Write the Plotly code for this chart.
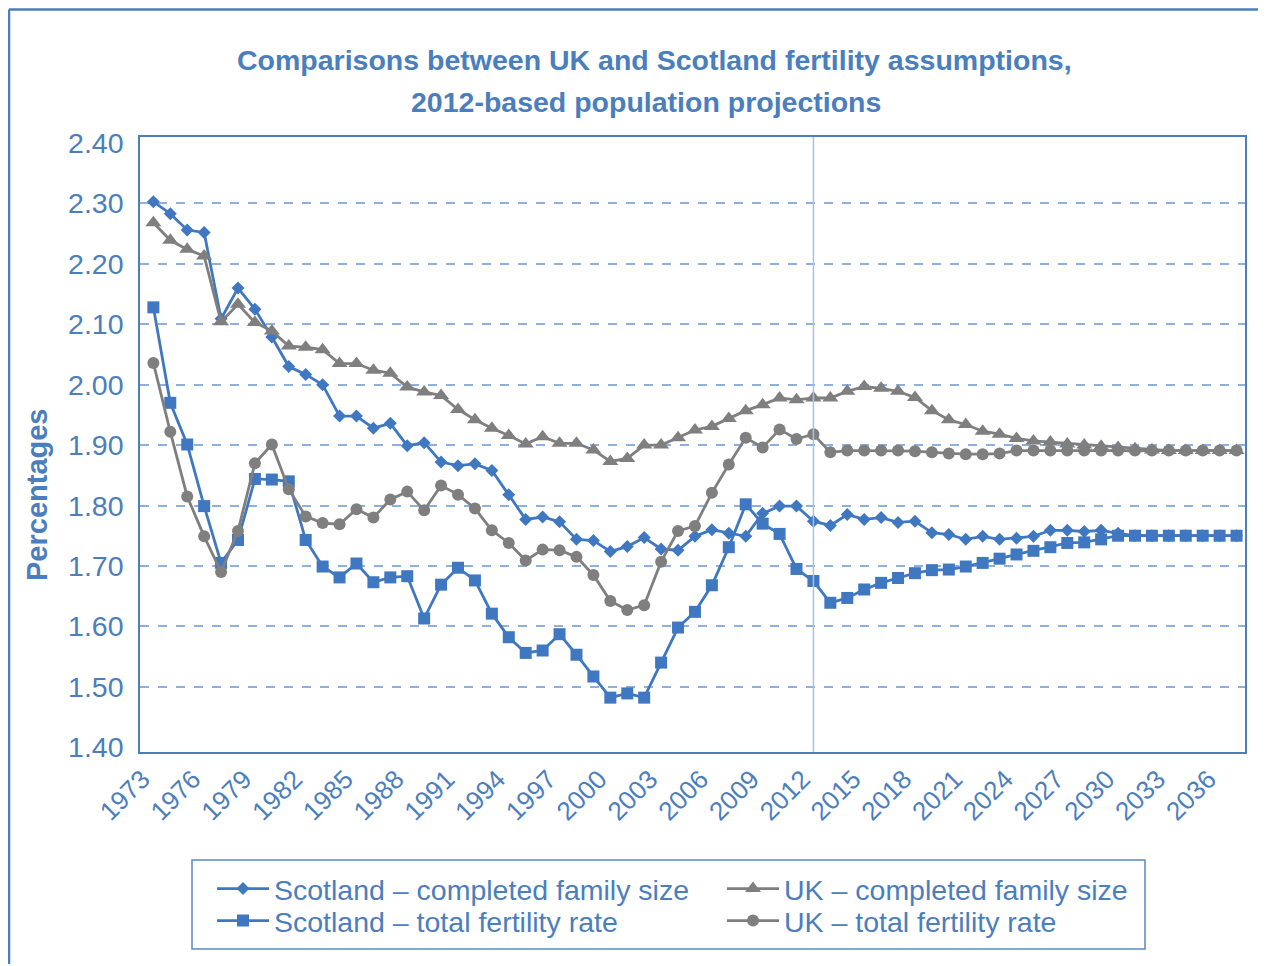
import plotly.graph_objects as go

# Years 1973-2037, one value per year
YEARS = list(range(1973, 2038))
TICK_YEARS = [1973, 1976, 1979, 1982, 1985, 1988, 1991, 1994, 1997, 2000, 2003,
              2006, 2009, 2012, 2015, 2018, 2021, 2024, 2027, 2030, 2033, 2036]
Y_TICKS = [1.40, 1.50, 1.60, 1.70, 1.80, 1.90, 2.00, 2.10, 2.20, 2.30, 2.40]
GRID_VALUES = [1.50, 1.60, 1.70, 1.80, 1.90, 2.00, 2.10, 2.20, 2.30]
BASE_YEAR = 2012

scotland_cfs = [
    2.303, 2.283, 2.256, 2.252, 2.109, 2.160, 2.125, 2.079, 2.030, 2.017,  # 1973-1982
    2.000, 1.948, 1.948, 1.928, 1.936, 1.899, 1.904, 1.872, 1.866, 1.869,  # 1983-1992
    1.858, 1.818, 1.777, 1.781, 1.773, 1.744, 1.742, 1.724, 1.732, 1.747,  # 1993-2002
    1.728, 1.726, 1.749, 1.760, 1.754, 1.749, 1.787, 1.799, 1.799, 1.774,  # 2003-2012
    1.767, 1.785, 1.777, 1.780, 1.772, 1.774, 1.755, 1.752, 1.744, 1.749,  # 2013-2022
    1.744, 1.746, 1.749, 1.759, 1.759, 1.757, 1.759, 1.754, 1.750, 1.750,  # 2023-2032
    1.750, 1.750, 1.750, 1.750, 1.750,                                     # 2033-2037
]
scotland_tfr = [
    2.128, 1.970, 1.901, 1.799, 1.705, 1.743, 1.844, 1.843, 1.840, 1.743,
    1.699, 1.681, 1.704, 1.673, 1.681, 1.683, 1.613, 1.669, 1.697, 1.676,
    1.621, 1.582, 1.556, 1.560, 1.587, 1.553, 1.517, 1.482, 1.489, 1.482,
    1.540, 1.598, 1.624, 1.668, 1.731, 1.802, 1.770, 1.753, 1.695, 1.675,
    1.639, 1.647, 1.661, 1.672, 1.680, 1.688, 1.693, 1.694, 1.699, 1.705,
    1.712, 1.719, 1.725, 1.731, 1.738, 1.739, 1.744, 1.750, 1.750, 1.750,
    1.750, 1.750, 1.750, 1.750, 1.750,
]
uk_cfs = [
    2.268, 2.239, 2.224, 2.213, 2.104, 2.133, 2.103, 2.089, 2.064, 2.062,
    2.058, 2.035, 2.035, 2.024, 2.019, 1.996, 1.988, 1.982, 1.959, 1.942,
    1.928, 1.916, 1.902, 1.914, 1.903, 1.903, 1.892, 1.873, 1.878, 1.900,
    1.900, 1.912, 1.925, 1.931, 1.944, 1.957, 1.967, 1.978, 1.975, 1.978,
    1.978, 1.989, 1.997, 1.994, 1.989, 1.979, 1.957, 1.942, 1.934, 1.923,
    1.918, 1.911, 1.907, 1.905, 1.902, 1.900, 1.898, 1.896, 1.894, 1.892,
    1.891, 1.891, 1.891, 1.891, 1.891,
]
uk_tfr = [
    2.036, 1.922, 1.815, 1.749, 1.690, 1.758, 1.870, 1.901, 1.827, 1.782,
    1.771, 1.769, 1.794, 1.780, 1.810, 1.823, 1.792, 1.833, 1.818, 1.795,
    1.759, 1.738, 1.709, 1.727, 1.726, 1.715, 1.685, 1.642, 1.627, 1.635,
    1.707, 1.758, 1.766, 1.821, 1.868, 1.912, 1.896, 1.926, 1.910, 1.918,
    1.888, 1.891, 1.891, 1.891, 1.891, 1.890, 1.888, 1.886, 1.885, 1.885,
    1.886, 1.891, 1.891, 1.891, 1.891, 1.891, 1.891, 1.891, 1.891, 1.891,
    1.891, 1.891, 1.891, 1.891, 1.891,
]

BLUE = "#3f78c1"
GREY = "#7f7f80"
TEXT = "#4a7ebd"
FONT = "Liberation Sans, Arial, sans-serif"

# the page body adds an 8px margin, so the figure is a bit smaller than the window
PAGE_PAD = 8
W, H = 1266 - PAGE_PAD, 966 - PAGE_PAD
PLOT_LEFT, PLOT_RIGHT, PLOT_TOP, PLOT_BOTTOM = 140, 1245, 137, 752  # page pixels
L = PLOT_LEFT - PAGE_PAD
R = W - (PLOT_RIGHT - PAGE_PAD)
T = PLOT_TOP - PAGE_PAD
B = H - (PLOT_BOTTOM - PAGE_PAD)
PW, PH = W - L - R, H - T - B


def px(x):
    """Page x pixel -> paper fraction."""
    return (x - PAGE_PAD - L) / PW


def py(y):
    """Page y pixel -> paper fraction."""
    return (H - B - (y - PAGE_PAD)) / PH


# name, values, colour, marker, size, legend id, legend anchor (page px)
series = [
    ("Scotland \u2013 completed family size", scotland_cfs, BLUE, "diamond", 10, "legend", (212, 889)),
    ("UK \u2013 completed family size", uk_cfs, GREY, "triangle-up", 14, "legend2", (722, 889)),
    ("Scotland \u2013 total fertility rate", scotland_tfr, BLUE, "square", 12, "legend3", (212, 921)),
    ("UK \u2013 total fertility rate", uk_tfr, GREY, "circle", 12, "legend4", (722, 921)),
]

fig = go.Figure()
legends = {}
for name, values, color, symbol, size, legend_id, (lx, ly) in series:
    fig.add_trace(
        go.Scatter(
            x=YEARS,
            y=values,
            name=name,
            mode="lines+markers",
            line=dict(color=color, width=2.8),
            marker=dict(symbol=symbol, size=size, color=color),
            legend=legend_id,
        )
    )
    legends[legend_id] = dict(
        x=px(lx),
        y=py(ly),
        xanchor="left",
        yanchor="middle",
        itemwidth=52,
        font=dict(size=28.5, color=TEXT),
        bgcolor="rgba(0,0,0,0)",
        borderwidth=0,
    )

fig.update_layout(
    width=W,
    height=H,
    margin=dict(l=L, r=R, t=T, b=B),
    paper_bgcolor="white",
    plot_bgcolor="white",
    font=dict(family=FONT, color=TEXT),
    showlegend=True,
    xaxis=dict(
        range=[1972.21, 2037.5],
        tickvals=TICK_YEARS,
        tickangle=-45,
        tickfont=dict(size=26, color=TEXT),
        showgrid=False,
        zeroline=False,
        showline=True,
        mirror=True,
        linecolor="#4a7ebd",
        linewidth=1.5,
        ticks="",
        ticklabelstandoff=0,
        ticklabelshift=-11,
    ),
    yaxis=dict(
        range=[1.392, 2.41],
        tickvals=Y_TICKS,
        tickformat=".2f",
        tickfont=dict(size=28.5, color=TEXT),
        showgrid=False,
        zeroline=False,
        showline=True,
        mirror=True,
        linecolor="#4a7ebd",
        linewidth=1.5,
        ticks="",
        ticklabelstandoff=9,
        minor=dict(
            tickvals=GRID_VALUES,
            showgrid=True,
            gridcolor="#8fb0dd",
            griddash="dash",
            gridwidth=1.5,
        ),
    ),
    annotations=[
        dict(
            text="<b>Comparisons between UK and Scotland fertility assumptions,</b>",
            x=px(654), y=py(60), xref="paper", yref="paper",
            xanchor="center", yanchor="middle", showarrow=False,
            font=dict(size=28.5, color=TEXT),
        ),
        dict(
            text="<b>2012-based population projections</b>",
            x=px(646), y=py(102), xref="paper", yref="paper",
            xanchor="center", yanchor="middle", showarrow=False,
            font=dict(size=28.5, color=TEXT),
        ),
        dict(
            text="<b>Percentages</b>",
            x=px(37), y=py(495), xref="paper", yref="paper",
            xanchor="center", yanchor="middle", showarrow=False,
            textangle=-90,
            font=dict(size=29, color=TEXT),
        ),
    ],
    shapes=[
        # outer frame: only its top and left edges fall on the page
        dict(type="line", xref="paper", yref="paper",
             x0=px(9), x1=px(1280), y0=py(9.5), y1=py(9.5),
             line=dict(color="#4a7ebd", width=2.5)),
        dict(type="line", xref="paper", yref="paper",
             x0=px(9), x1=px(9), y0=py(9.5), y1=py(964),
             line=dict(color="#4a7ebd", width=2.5)),
        # legend box
        dict(type="rect", xref="paper", yref="paper",
             x0=px(192), x1=px(1145), y0=py(949), y1=py(860),
             line=dict(color="#5a88c4", width=1.5), fillcolor="rgba(0,0,0,0)"),
    ],
    **legends,
)

# projection base year marker, added after the layout shapes so it is not overwritten
fig.add_vline(x=BASE_YEAR, line_color="#a9c1e4", line_width=1.5)

fig.write_html("out.html")
